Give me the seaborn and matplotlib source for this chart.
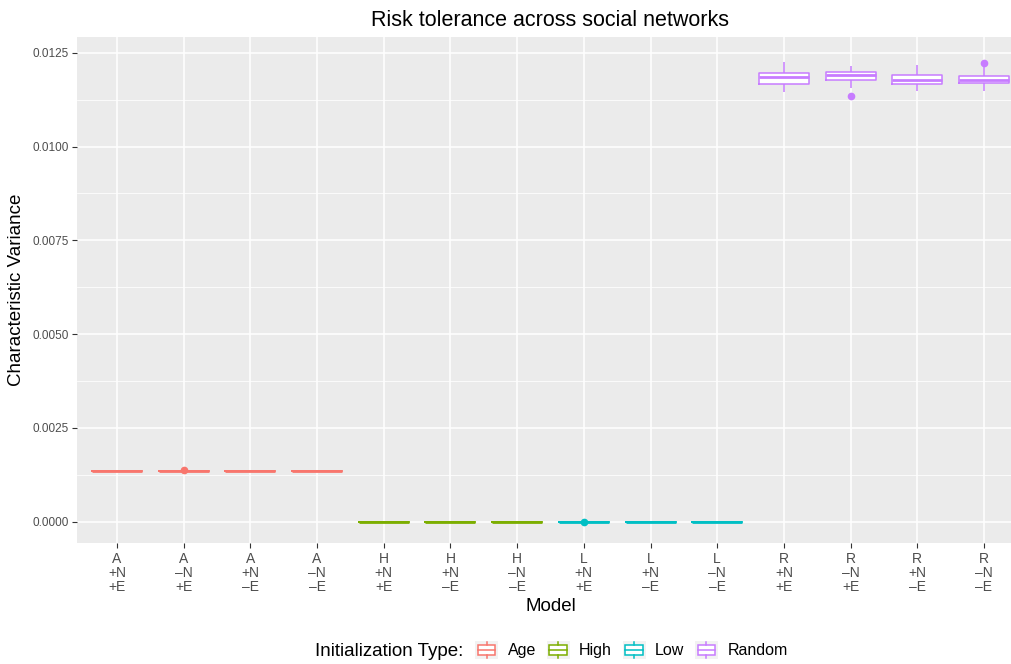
import pandas as pd
import matplotlib.pyplot as plt
import matplotlib.ticker as ticker
import seaborn as sns
from matplotlib.legend_handler import HandlerBase
from matplotlib.patches import Rectangle
from matplotlib.lines import Line2D

# models (x categories) and their initialization type
models = ["A\n+N\n+E", "A\n–N\n+E", "A\n+N\n–E", "A\n–N\n–E",
          "H\n+N\n+E", "H\n+N\n–E", "H\n–N\n–E",
          "L\n+N\n+E", "L\n+N\n–E", "L\n–N\n–E",
          "R\n+N\n+E", "R\n–N\n+E", "R\n+N\n–E", "R\n–N\n–E"]
init_types = ["Age"] * 4 + ["High"] * 3 + ["Low"] * 3 + ["Random"] * 4
type_order = ["Age", "High", "Low", "Random"]
palette = ["#F8766D", "#7CAE00", "#00BFC4", "#C77CFF"]

# characteristic variance per run
age_pne = [0.001340, 0.001342, 0.001344, 0.001346, 0.001348, 0.001350, 0.001353, 0.001355, 0.001357]
age_mne = [0.001362, 0.001362, 0.001363, 0.001363, 0.001363, 0.001363, 0.001364, 0.001364, 0.001378]
age_pme = [0.001362, 0.001362, 0.001363, 0.001363, 0.001363, 0.001363, 0.001364, 0.001364, 0.001365]
age_mme = [0.001362, 0.001362, 0.001363, 0.001363, 0.001363, 0.001363, 0.001364, 0.001364, 0.001365]
high_pne = [0.0, 0.0, 0.0, 0.0, 0.0, 0.0, 0.0, 0.0, 0.0]
high_pme = [0.0, 0.0, 0.0, 0.0, 0.0, 0.0, 0.0, 0.0, 0.0]
high_mme = [0.0, 0.0, 0.0, 0.0, 0.0, 0.0, 0.0, 0.0, 0.0]
low_pne = [0.0, 0.0, 0.0, 0.0, 0.0, 0.0, 0.0, 0.0, 0.000005]
low_pme = [0.0, 0.0, 0.0, 0.0, 0.0, 0.0, 0.0, 0.0, 0.0]
low_mme = [0.0, 0.0, 0.0, 0.0, 0.0, 0.0, 0.0, 0.0, 0.0]
rand_pne = [0.01144, 0.01155, 0.01167, 0.01176, 0.01184, 0.01190, 0.01196, 0.01210, 0.01226]
rand_mne = [0.01134, 0.01155, 0.01177, 0.01183, 0.01190, 0.01194, 0.01199, 0.01207, 0.01215]
rand_pme = [0.01149, 0.01158, 0.01167, 0.01172, 0.01178, 0.01185, 0.01191, 0.01205, 0.01218]
rand_mme = [0.01149, 0.01160, 0.01169, 0.01174, 0.01178, 0.01183, 0.01188, 0.01213, 0.01223]

runs = [age_pne, age_mne, age_pme, age_mme, high_pne, high_pme, high_mme,
        low_pne, low_pme, low_mme, rand_pne, rand_mne, rand_pme, rand_mme]

rows = []
for m, t, vals in zip(models, init_types, runs):
    for v in vals:
        rows.append({"Model": m, "Init": t, "Variance": v})
df = pd.DataFrame(rows)

plt.rcParams.update({
    "font.family": ["Liberation Sans", "DejaVu Sans"],
    "axes.unicode_minus": False,
})
type_color = dict(zip(type_order, palette))

fig = plt.figure(figsize=(10.12, 6.64), dpi=100)
ax = fig.add_axes([77 / 1012, 120.7 / 664, 947 / 1012, 506.6 / 664])
ax.set_facecolor("#EBEBEB")

# white fill underneath (ggplot boxes are filled white)
n_lines = len(ax.lines)
n_patches = len(ax.patches)
sns.boxplot(data=df, x="Model", y="Variance", order=models, color="white",
            width=0.75, showfliers=False, legend=False, ax=ax)
for ln in list(ax.lines[n_lines:]):
    ln.remove()
for p in ax.patches[n_patches:]:
    p.set_edgecolor("none")
    p.set_facecolor("white")

# coloured outlines
n_lines = len(ax.lines)
sns.boxplot(data=df, x="Model", y="Variance", order=models, hue="Init",
            hue_order=type_order, palette=palette, fill=False, dodge=False,
            width=0.75, linewidth=1.1, showcaps=False, fliersize=4.5,
            medianprops={"linewidth": 2.0}, legend=False, ax=ax)
for ln in ax.lines[n_lines:]:
    if ln.get_marker() not in (None, "", "None") and len(ln.get_xdata()) > 0:
        col = type_color[init_types[int(round(ln.get_xdata()[0]))]]
        ln.set_marker("o")
        ln.set_markerfacecolor(col)
        ln.set_markeredgecolor(col)

ax.set_xlim(-0.6, 13.6)
ax.set_ylim(-0.000576, 0.012927)
ax.yaxis.set_major_locator(ticker.MultipleLocator(0.0025))
ax.yaxis.set_minor_locator(ticker.MultipleLocator(0.00125))
ax.yaxis.set_major_formatter(ticker.FormatStrFormatter("%.4f"))
ax.set_xticks(range(len(models)))
ax.set_xticklabels(models, fontsize=10, linespacing=1.0)

ax.set_axisbelow(True)
ax.grid(which="major", color="white", linewidth=1.1)
ax.grid(which="minor", axis="y", color="white", linewidth=0.55)
for s in ax.spines.values():
    s.set_visible(False)
ax.tick_params(which="major", length=3.5, width=0.8, color="#333333",
               labelcolor="#4D4D4D", pad=2.5)
ax.tick_params(axis="y", labelsize=8.5)
ax.tick_params(which="minor", length=0)

ax.set_xlabel("Model", fontsize=13.5, color="black", labelpad=3)
ax.set_ylabel("Characteristic Variance", fontsize=13.5, color="black", labelpad=5)
ax.set_title("Risk tolerance across social networks", fontsize=15.5, pad=8)


class BoxKey(HandlerBase):
    def create_artists(self, legend, orig_handle, xdescent, ydescent,
                       width, height, fontsize, trans):
        c = orig_handle.get_color()
        x0, y0 = -xdescent, -ydescent
        bg = Rectangle((x0, y0), width, height, facecolor="#F2F2F2",
                       edgecolor="none", transform=trans)
        box = Rectangle((x0 + 0.125 * width, y0 + 0.25 * height), 0.75 * width,
                        0.5 * height, facecolor="white", edgecolor=c, lw=1.1,
                        transform=trans)
        med = Line2D([x0 + 0.125 * width, x0 + 0.875 * width],
                     [y0 + 0.5 * height] * 2, color=c, lw=1.1, transform=trans)
        w1 = Line2D([x0 + 0.5 * width] * 2, [y0 + 0.1 * height, y0 + 0.25 * height],
                    color=c, lw=1.1, transform=trans)
        w2 = Line2D([x0 + 0.5 * width] * 2, [y0 + 0.75 * height, y0 + 0.9 * height],
                    color=c, lw=1.1, transform=trans)
        return [bg, box, med, w1, w2]


handles = [Line2D([], [], color=c, label=t) for t, c in zip(type_order, palette)]
fig.legend(handles=handles, loc="center left",
           bbox_to_anchor=(475 / 1012, 1 - 650 / 664), ncol=4, frameon=False,
           fontsize=11.5, handlelength=1.45, handleheight=1.45,
           handletextpad=0.6, columnspacing=0.65, borderpad=0, borderaxespad=0,
           handler_map={Line2D: BoxKey()})
fig.text(463 / 1012, 1 - 651 / 664, "Initialization Type:", fontsize=13.5,
         ha="right", va="center")

fig.savefig("out.png", dpi=100)
